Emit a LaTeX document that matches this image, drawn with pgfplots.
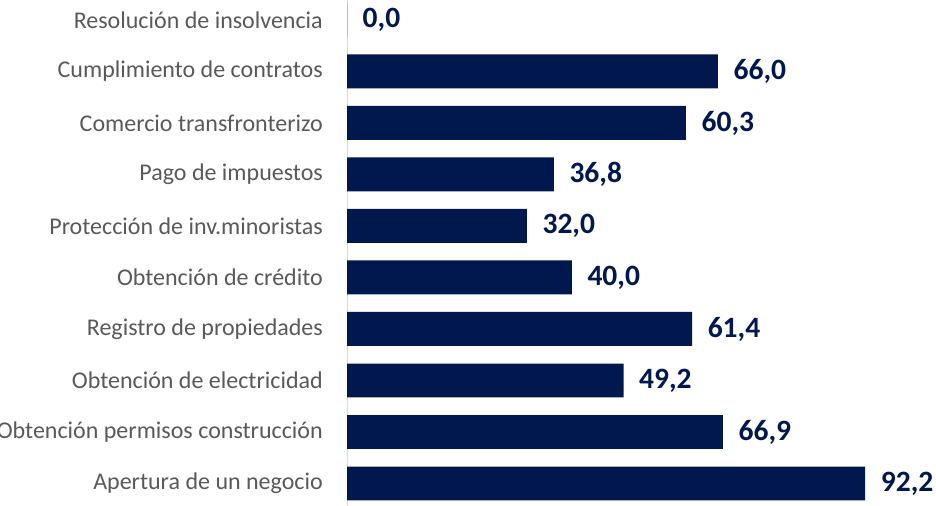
\documentclass[border=0pt]{standalone}
\usepackage{pgfplots}
\pgfplotsset{compat=1.18}
\usepackage{fontspec}
\setmainfont{Carlito}
\definecolor{navy}{RGB}{0,24,77}
\definecolor{lbl}{RGB}{89,89,89}
\begin{document}
\begin{tikzpicture}
\begin{axis}[
  x=5.62bp, y=51.5bp,
  xmin=0, xmax=104.8, ymin=-0.5, ymax=9.5,
  xbar, bar width=0.66, bar shift=0pt,
  axis x line=none,
  axis y line=left,
  y axis line style={-, draw=black!15, line width=1pt},
  ytick={0,...,9},
  yticklabels={Apertura de un negocio, Obtención permisos construcción, Obtención de electricidad, Registro de propiedades, Obtención de crédito, Protección de inv.minoristas, Pago de impuestos, Comercio transfronterizo, Cumplimiento de contratos, Resolución de insolvencia},
  major tick length=0pt,
  yticklabel style={font=\fontsize{24bp}{28bp}\selectfont, text=lbl, anchor=east, inner sep=0pt, xshift=-24bp},
  nodes near coords={\pgfmathprintnumber[fixed,fixed zerofill,precision=1,use comma,assume math mode=true]{\pgfplotspointmeta}},
  nodes near coords style={font=\bfseries\fontsize{29.5bp}{33bp}\selectfont, text=navy, anchor=west, inner sep=0pt, xshift=15.5bp},
  clip=false,
]
\addplot[fill=navy, draw=none] coordinates {(92.2,0) (66.9,1) (49.2,2) (61.4,3) (40.0,4) (32.0,5) (36.8,6) (60.3,7) (66.0,8) (0,9)};
\coordinate (bl) at (axis cs:0,-0.419);
\coordinate (tr) at (axis cs:104.8,9.388);
\end{axis}
\pgfresetboundingbox
\useasboundingbox ([xshift=-347bp]bl) rectangle (tr);
\end{tikzpicture}
\end{document}
